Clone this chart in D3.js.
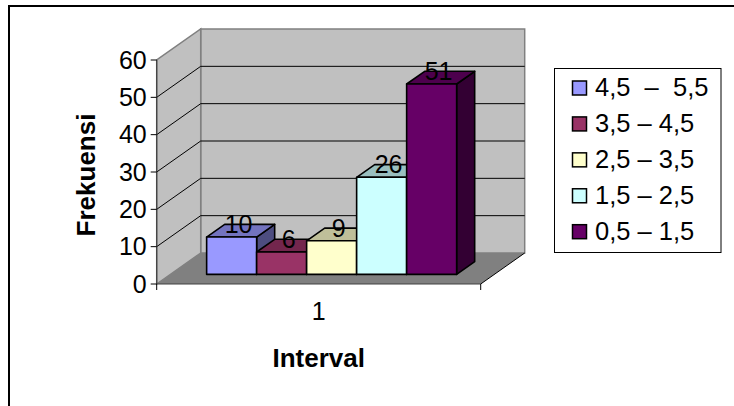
<!DOCTYPE html>
<html>
<head>
<meta charset="utf-8">
<script src="https://cdnjs.cloudflare.com/ajax/libs/d3/7.8.5/d3.min.js"></script>
<style>
html, body { margin: 0; padding: 0; background: #fff; }
svg { display: block; font-family: "Liberation Sans", Arial, sans-serif; }
</style>
</head>
<body>
<svg id="chart" width="734" height="406"></svg>
<script>
var categories = ["1"];
var seriesNames = ["4,5  \u2013  5,5", "3,5 \u2013 4,5", "2,5 \u2013 3,5", "1,5 \u2013 2,5", "0,5 \u2013 1,5"];
var seriesValues = [10, 6, 9, 26, 51];
var seriesColors = ["#9999ff", "#993366", "#ffffcc", "#ccffff", "#660066"];
var yTicks = [0, 10, 20, 30, 40, 50, 60];

var svg = d3.select("#chart");

// frame, cropped on the right and at the bottom
svg.append("path")
    .attr("d", "M9,406V6H734")
    .attr("fill", "none").attr("stroke", "#000").attr("stroke-width", 2);

// front plane scales + a depth scale for the fake 3d
var x = d3.scaleBand().domain(categories).range([156.7, 480.7]);
var y = d3.scaleLinear().domain([0, 60]).range([284, 60]);
var depthX = d3.scaleLinear().domain([0, 1]).range([0, 44]);
var depthY = d3.scaleLinear().domain([0, 1]).range([0, -31]);
var bars = d3.scaleBand().domain(seriesNames).range([193, 443]);

function pt(px, value, z) {
    return [px + depthX(z), y(value) + depthY(z)];
}
function poly(points) {
    return "M" + points.map(function(p) { return p.join(","); }).join("L") + "Z";
}

var x0 = x.range()[0], x1 = x.range()[1];

// back wall
svg.append("path")
    .attr("d", poly([pt(x0, 0, 1), pt(x1, 0, 1), pt(x1, 60, 1), pt(x0, 60, 1)]))
    .attr("fill", "#c0c0c0").attr("stroke", "#808080").attr("stroke-width", 1.5);
// side wall
svg.append("path")
    .attr("d", poly([pt(x0, 0, 0), pt(x0, 0, 1), pt(x0, 60, 1), pt(x0, 60, 0)]))
    .attr("fill", "#c0c0c0").attr("stroke", "#808080").attr("stroke-width", 1.5);
// floor
svg.append("path")
    .attr("d", poly([pt(x0, 0, 0), pt(x1, 0, 0), pt(x1, 0, 1), pt(x0, 0, 1)]))
    .attr("fill", "#808080").attr("stroke", "none");

// gridlines, along side wall and back wall
yTicks.filter(function(t) { return t > 0 && t < 60; }).forEach(function(t) {
    svg.append("path")
        .attr("d", d3.line()([pt(x0, t, 0), pt(x0, t, 1), pt(x1, t, 1)]))
        .attr("fill", "none").attr("stroke", "#000").attr("stroke-width", 1);
});

// axis lines and ticks
svg.append("path")
    .attr("d", d3.line()([[x0, y(60)], [x0, y(0)], [x1, y(0)]]))
    .attr("fill", "none").attr("stroke", "#404040").attr("stroke-width", 1.2);
svg.append("path")
    .attr("d", d3.line()([pt(x1, 0, 0), pt(x1, 0, 1)]))
    .attr("fill", "none").attr("stroke", "#000").attr("stroke-width", 1);

var yAxis = svg.selectAll(".ytick").data(yTicks).enter().append("g").attr("class", "ytick");
yAxis.append("line")
    .attr("x1", x0 - 6).attr("x2", x0)
    .attr("y1", function(d) { return y(d); }).attr("y2", function(d) { return y(d); })
    .attr("stroke", "#000");
yAxis.append("text")
    .attr("x", x0 - 10).attr("y", function(d) { return y(d); })
    .attr("dy", "0.35em").attr("text-anchor", "end")
    .attr("font-size", 25).attr("fill", "#000")
    .text(function(d) { return d; });

[x0, x1].forEach(function(px) {
    svg.append("line").attr("x1", px).attr("x2", px)
        .attr("y1", y(0)).attr("y2", y(0) + 6).attr("stroke", "#000");
});
svg.append("text")
    .attr("x", x(categories[0]) + x.bandwidth() / 2).attr("y", 320)
    .attr("text-anchor", "middle").attr("font-size", 25)
    .text(categories[0]);

// bars, left to right so each one covers the side of the one before
var zFront = 0.31, zBack = 0.72;
seriesNames.forEach(function(name, i) {
    var a = bars(name), b = a + bars.bandwidth(), v = seriesValues[i];
    var color = d3.color(seriesColors[i]);
    var g = svg.append("g").attr("stroke", "#000").attr("stroke-width", 1.6).attr("stroke-linejoin", "round");
    g.append("path")
        .attr("d", poly([pt(b, 0, zFront), pt(b, 0, zBack), pt(b, v, zBack), pt(b, v, zFront)]))
        .attr("fill", d3.rgb(color.r * 0.5, color.g * 0.5, color.b * 0.5));
    g.append("path")
        .attr("d", poly([pt(a, v, zFront), pt(b, v, zFront), pt(b, v, zBack), pt(a, v, zBack)]))
        .attr("fill", d3.rgb(color.r * 0.75, color.g * 0.75, color.b * 0.75));
    g.append("path")
        .attr("d", poly([pt(a, 0, zFront), pt(b, 0, zFront), pt(b, v, zFront), pt(a, v, zFront)]))
        .attr("fill", seriesColors[i]);
});

// value labels go on top of everything
seriesNames.forEach(function(name, i) {
    var p = pt(bars(name) + bars.bandwidth() / 2, seriesValues[i], zFront);
    svg.append("text")
        .attr("x", p[0] + 7).attr("y", p[1] - 13)
        .attr("dy", "0.35em").attr("text-anchor", "middle")
        .attr("font-size", 25).attr("fill", "#000")
        .text(seriesValues[i]);
});

// axis titles
svg.append("text")
    .attr("transform", "translate(95,175) rotate(-90)")
    .attr("text-anchor", "middle").attr("font-size", 26).attr("font-weight", "bold")
    .text("Frekuensi");
svg.append("text")
    .attr("x", 318.7).attr("y", 367)
    .attr("text-anchor", "middle").attr("font-size", 26).attr("font-weight", "bold")
    .text("Interval");

// legend
svg.append("rect")
    .attr("x", 554.5).attr("y", 68.5).attr("width", 166.5).attr("height", 184)
    .attr("fill", "#fff").attr("stroke", "#000");
var legendY = d3.scalePoint().domain(seriesNames).range([88, 231.7]);
var legend = svg.selectAll(".legend").data(seriesNames).enter().append("g").attr("class", "legend");
legend.append("rect")
    .attr("x", 572.5).attr("y", function(d) { return legendY(d) - 7; })
    .attr("width", 14).attr("height", 14)
    .attr("fill", function(d, i) { return seriesColors[i]; })
    .attr("stroke", "#000").attr("stroke-width", 1.5);
legend.append("text")
    .attr("x", 595).attr("y", function(d) { return legendY(d) - 1; })
    .attr("dy", "0.35em").attr("font-size", 25.5)
    .attr("xml:space", "preserve").style("white-space", "pre")
    .text(function(d) { return d; });
</script>
</body>
</html>
